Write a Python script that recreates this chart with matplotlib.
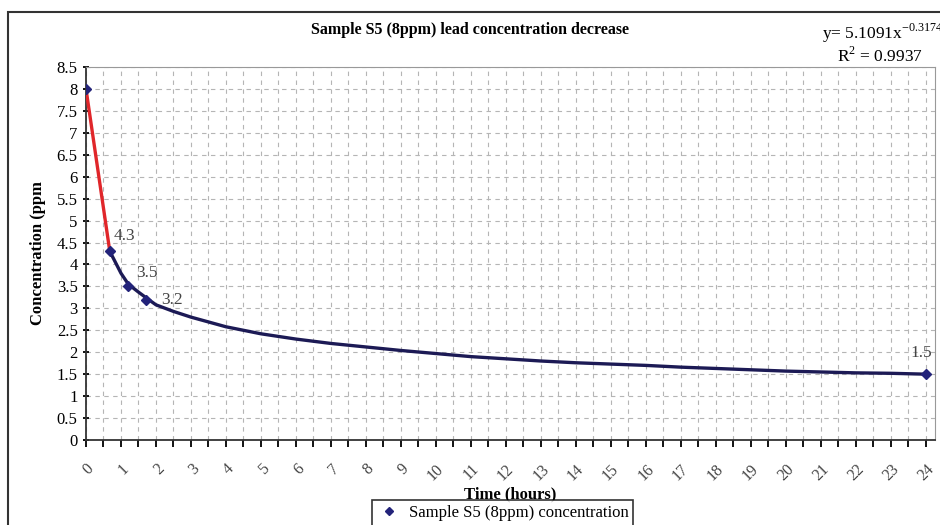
import numpy as np
import matplotlib
matplotlib.use("Agg")
import matplotlib.pyplot as plt
from matplotlib.patches import Rectangle

plt.rcParams['font.family'] = ['Liberation Serif', 'DejaVu Serif']
plt.rcParams['mathtext.fontset'] = 'custom'
plt.rcParams['mathtext.rm'] = 'Liberation Serif'

# measured points
time_h = [0, 0.68, 1.21, 1.72, 24]
conc = [8, 4.3, 3.5, 3.2, 1.5]
point_labels = ['', '4.3', '3.5', '3.2', '1.5']

# fitted curve as drawn on the chart
trend_t = [0.68, 1.0, 1.21, 1.5, 1.72, 2, 2.5, 3, 4, 5, 6, 7, 8, 9, 10, 11, 12,
           13, 14, 15, 16, 17, 18, 19, 20, 21, 22, 23, 24]
trend_c = [4.3, 3.8, 3.55, 3.37, 3.24, 3.08, 2.93, 2.8, 2.58, 2.42, 2.3, 2.2, 2.12,
           2.04, 1.97, 1.9, 1.85, 1.8, 1.76, 1.73, 1.7, 1.66, 1.63, 1.6, 1.57,
           1.55, 1.53, 1.52, 1.5]

x_labels = [str(h) for h in range(25)]
y_ticks = np.arange(0, 8.51, 0.5)
y_labels = ['0', '0.5', '1', '1.5', '2', '2.5', '3', '3.5', '4', '4.5', '5', '5.5',
            '6', '6.5', '7', '7.5', '8', '8.5']

fig = plt.figure(figsize=(9.4, 5.25), dpi=100)
ax = fig.add_axes([86 / 940, 1 - 440 / 525, (935 - 86) / 940, (440 - 67) / 525])

# red segment between the first two readings
ax.plot(time_h[:2], conc[:2], color='#e0262a', lw=2.4, zorder=3)
# power trend line
ax.plot(trend_t, trend_c, color='#1c1a55', lw=2.4, zorder=3)
ax.plot(time_h, conc, linestyle='none', marker='D', markersize=5.5, color='#23237a',
        zorder=4, label='Sample S5 (8ppm) concentration')

label_offsets = [(0, 0), (3, 11), (6, 10), (11, 0), (-3, 15)]
for t, c, lab, off in zip(time_h, conc, point_labels, label_offsets):
    if not lab:
        continue
    ha = 'center' if t > 20 else 'left'
    ax.annotate(lab, (t, c), xytext=off, textcoords='offset points',
                ha=ha, va='center', fontsize=12.5, color='#444444')

ax.set_xlim(0, 24.26)
ax.set_ylim(0, 8.5)

ax.set_xticks(np.arange(0, 24.01, 0.5))
ax.set_xticklabels([x_labels[int(v)] if v == int(v) else '' for v in np.arange(0, 24.01, 0.5)],
                   rotation=45, ha='right', rotation_mode='anchor', fontsize=11.5, color='#444444')
ax.set_yticks(y_ticks)
ax.set_yticklabels(y_labels, fontsize=12)
ax.tick_params(axis='x', length=5, width=1.3, direction='out', pad=10)
ax.tick_params(axis='y', length=5, width=1.3, direction='inout')

ax.grid(True, linestyle=(0, (4, 4)), color='#b5b5b5', lw=0.8)
ax.set_axisbelow(True)
for s in ['top', 'right']:
    ax.spines[s].set_color('#999999')
for s in ['left', 'bottom']:
    ax.spines[s].set_linewidth(1.3)
    ax.spines[s].set_color('#333333')

ax.set_xlabel('Time (hours)', fontsize=12, fontweight='bold', labelpad=2)
ax.set_ylabel('Concentration (ppm', fontsize=12, fontweight='bold', labelpad=8)

fig.text(470 / 940, 1 - 30 / 525, 'Sample S5 (8ppm) lead concentration decrease',
         ha='center', va='center', fontsize=11.5, fontweight='bold')
fig.text(822 / 940, 1 - 33 / 525, r'y= 5.1091x$^{\mathrm{-0.3174}}$', ha='left', va='center',
         fontsize=12.5)
fig.text(923 / 940, 1 - 56 / 525, r'R$^{2}$ = 0.9937', ha='right', va='center',
         fontsize=12.5)

leg = ax.legend(loc='upper left', bbox_to_anchor=(372 / 940, 1 - 500 / 525),
                bbox_transform=fig.transFigure, borderaxespad=0, fontsize=12,
                frameon=True, fancybox=False, edgecolor='black', handletextpad=0.5,
                borderpad=0.3, handlelength=1.4, markerscale=0.8)
leg.get_frame().set_linewidth(1.2)

fig.patches.append(Rectangle((8 / 940, -0.1), 1.2, 0.1 + 1 - 12 / 525,
                             transform=fig.transFigure, fill=False,
                             edgecolor='#333333', lw=1.5))

fig.savefig('out.png', dpi=100)
